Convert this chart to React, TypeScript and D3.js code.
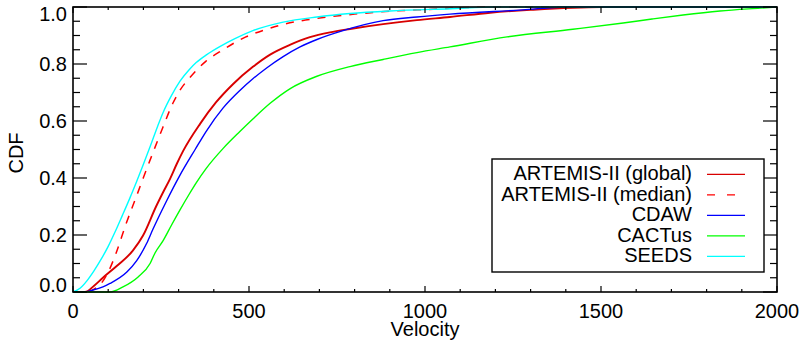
import React from "react";
import * as d3 from "d3";

// Cumulative distributions of CME velocity for each catalogue
const seedsV = [0, 20, 40, 60, 80, 100, 120, 140, 160, 180, 200, 220, 240, 256, 280, 304, 330, 350, 380, 417, 460, 511, 597, 693, 787, 900, 1071, 1200, 2000];
const seedsC = [0, 0.013, 0.04, 0.075, 0.115, 0.16, 0.212, 0.268, 0.325, 0.385, 0.448, 0.513, 0.58, 0.63, 0.69, 0.74, 0.78, 0.805, 0.833, 0.861, 0.889, 0.917, 0.947, 0.965, 0.977, 0.986, 0.994, 1.0, 1.0];

const medianV = [0, 40, 60, 80, 100, 122, 151, 180, 199, 230, 256, 284, 305, 332, 378, 426, 491, 550, 600, 700, 800, 900, 1000, 1200, 2000];
const medianC = [0, 0, 0.01, 0.03, 0.07, 0.135, 0.24, 0.335, 0.398, 0.498, 0.58, 0.663, 0.71, 0.752, 0.81, 0.85, 0.895, 0.922, 0.94, 0.961, 0.975, 0.985, 0.991, 1.0, 1.0];

const globalV = [0, 34, 60, 85, 125, 170, 199, 236, 256, 276, 295, 313, 361, 406, 455, 511, 560, 616, 673, 730, 787, 881, 977, 1071, 1185, 1300, 1500, 2000];
const globalC = [0, 0, 0.022, 0.05, 0.092, 0.145, 0.198, 0.30, 0.35, 0.398, 0.45, 0.495, 0.59, 0.665, 0.73, 0.79, 0.833, 0.867, 0.894, 0.911, 0.923, 0.94, 0.954, 0.965, 0.98, 0.99, 1.0, 1.0];

const cdawV = [0, 30, 57, 85, 105, 153, 181, 209, 227, 264, 304, 347, 378, 426, 474, 511, 551, 597, 645, 693, 767, 881, 977, 1071, 1278, 1400, 2000];
const cdawC = [0, 0, 0.007, 0.018, 0.03, 0.07, 0.11, 0.17, 0.22, 0.315, 0.41, 0.50, 0.563, 0.645, 0.707, 0.748, 0.787, 0.826, 0.86, 0.886, 0.917, 0.952, 0.965, 0.975, 0.99, 1.0, 1.0];

const cactusV = [0, 105, 142, 185, 219, 233, 256, 280, 304, 330, 350, 378, 426, 474, 511, 560, 616, 693, 787, 881, 977, 1071, 1233, 1420, 1563, 1645, 1733, 1838, 1952, 2000];
const cactusC = [0, 0, 0.018, 0.053, 0.10, 0.137, 0.18, 0.235, 0.288, 0.343, 0.383, 0.433, 0.503, 0.563, 0.607, 0.662, 0.713, 0.757, 0.791, 0.816, 0.84, 0.86, 0.895, 0.922, 0.944, 0.958, 0.972, 0.986, 0.996, 1.0];

const seriesNames = ["ARTEMIS-II (global)", "ARTEMIS-II (median)", "CDAW", "CACTus", "SEEDS"];
const seriesColors = ["#d80000", "#ff0000", "#0000ff", "#00ff00", "#00ffff"];

const xTicks = [0, 500, 1000, 1500, 2000];
const yTicks = [0, 0.2, 0.4, 0.6, 0.8, 1.0];

const W = 802;
const H = 347;
const L = 73, R = 777, T = 7, B = 292;
const FONT = "'Liberation Sans', Arial, Helvetica, sans-serif";

export default function App() {
  const x = d3.scaleLinear().domain([0, 2000]).range([L, R]);
  const y = d3.scaleLinear().domain([0, 1]).range([B, T]);

  const line = d3
    .line<[number, number]>()
    .x((d) => x(d[0]))
    .y((d) => y(d[1]))
    .curve(d3.curveMonotoneX);

  const zip = (v: number[], c: number[]) => v.map((vv, i) => [vv, c[i]] as [number, number]);

  const series = [
    { v: globalV, c: globalC, width: 1.9, dash: undefined },
    { v: medianV, c: medianC, width: 1.5, dash: "8,8" },
    { v: cdawV, c: cdawC, width: 1.4, dash: undefined },
    { v: cactusV, c: cactusC, width: 1.4, dash: undefined },
    { v: seedsV, c: seedsC, width: 1.4, dash: undefined },
  ];

  const xMinor = d3.range(0, 2001, 100);
  const yMinor = d3.range(0, 1.0001, 0.05);

  const legendRows = [180, 200.5, 221, 241.5, 262];

  return (
    <svg
      width={W}
      height={H}
      style={{ position: "absolute", left: 0, top: 0, background: "#fff" }}
      fontFamily={FONT}
    >
      <rect x={0} y={0} width={W} height={H} fill="#fff" />

      {/* curves */}
      {series.map((s, i) => (
        <path
          key={i}
          d={line(zip(s.v, s.c)) || ""}
          fill="none"
          stroke={seriesColors[i]}
          strokeWidth={s.width}
          strokeDasharray={s.dash}
          strokeLinejoin="round"
        />
      ))}

      {/* frame */}
      <rect x={L} y={T} width={R - L} height={B - T} fill="none" stroke="#000" strokeWidth={1.6} />

      {/* x ticks, bottom and top */}
      {xMinor.map((v) => {
        const major = v % 500 === 0;
        const len = major ? 6 : 3;
        return (
          <g key={"x" + v}>
            <line x1={x(v)} x2={x(v)} y1={B} y2={B - len} stroke="#000" strokeWidth={1.2} />
            <line x1={x(v)} x2={x(v)} y1={T} y2={T + len} stroke="#000" strokeWidth={1.2} />
          </g>
        );
      })}

      {/* y ticks, left and right */}
      {yMinor.map((c, i) => {
        const major = i % 4 === 0;
        const len = major ? 14 : 7;
        return (
          <g key={"y" + i}>
            <line x1={L} x2={L + len} y1={y(c)} y2={y(c)} stroke="#000" strokeWidth={1.2} />
            <line x1={R} x2={R - len} y1={y(c)} y2={y(c)} stroke="#000" strokeWidth={1.2} />
          </g>
        );
      })}

      {/* tick labels */}
      {xTicks.map((v) => (
        <text key={"xl" + v} x={x(v)} y={318} fontSize={20} textAnchor="middle" fill="#000">
          {v}
        </text>
      ))}
      {yTicks.map((c) => {
        const off = c === 0 ? 0 : c === 1 ? 14 : 7;
        return (
          <text key={"yl" + c} x={67} y={y(c) + off} fontSize={20} textAnchor="end" fill="#000">
            {c.toFixed(1)}
          </text>
        );
      })}

      {/* axis titles */}
      <text x={425} y={336} fontSize={20} textAnchor="middle" fill="#000">
        Velocity
      </text>
      <text
        transform={`translate(23,153) rotate(-90)`}
        fontSize={20}
        textAnchor="middle"
        fill="#000"
      >
        CDF
      </text>

      {/* legend */}
      <rect x={492} y={159} width={272} height={113} fill="#fff" stroke="#000" strokeWidth={1.4} />
      {seriesNames.map((name, i) => (
        <g key={"lg" + i}>
          <text x={692} y={legendRows[i]} fontSize={20} textAnchor="end" fill="#000">
            {name}
          </text>
          <line
            x1={707}
            x2={745}
            y1={legendRows[i] - 5.7}
            y2={legendRows[i] - 5.7}
            stroke={seriesColors[i]}
            strokeWidth={1.2}
            strokeDasharray={i === 1 ? "8,12" : undefined}
          />
        </g>
      ))}
    </svg>
  );
}
